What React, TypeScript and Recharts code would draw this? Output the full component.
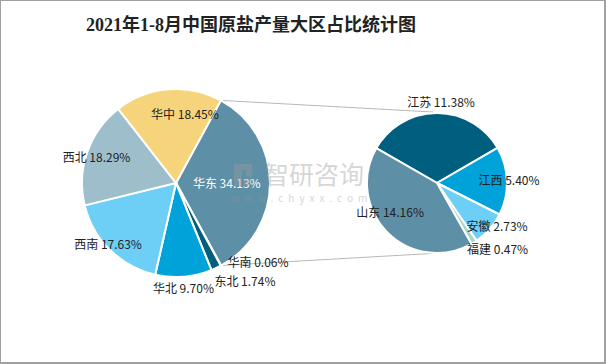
import React from 'react';
import { PieChart, Pie, Cell } from 'recharts';

const leftNames = ['华东', '华南', '东北', '华北', '西南', '西北', '华中'];
const leftValues = [34.13, 0.06, 1.74, 9.70, 17.63, 18.29, 18.45];
const rightNames = ['江苏', '江西', '安徽', '福建', '山东'];
const rightValues = [11.38, 5.40, 2.73, 0.47, 14.16];
const title = '2021年1-8月中国原盐产量大区占比统计图';

const leftColors = ['#5d8fa6', '#a8d6cf', '#005e7e', '#00a3d9', '#6dcff6', '#9fbecb', '#f6d47c'];
const rightColors = ['#005e7e', '#00a3d9', '#6dcff6', '#a8d6cf', '#5d8fa6'];
const leftLabelColors = ['#ffffff', '#222', '#222', '#222', '#222', '#222', '#222'];

// label layout: [radius factor, angle offset clockwise in degrees]
const leftLabelLayout: [number, number][] = [
  [0.54, 0], [1.21, -17.6], [1.27, -10], [1.11, 0.6], [0.965, 4], [0.89, -1], [0.75, 12],
];
const rightLabelLayout: [number, number][] = [
  [1.17, 3], [1.03, -0.7], [1.05, -6], [1.27, -11], [0.78, 14],
];

const W = 606;
const H = 364;
const L = { cx: 176, cy: 183, r: 94, start: 61.5 };
const R = { cx: 437, cy: 183, r: 70, start: 150.2 };

const leftData = leftNames.map((n, i) => ({ name: n, value: leftValues[i] }));
const rightData = rightNames.map((n, i) => ({ name: n, value: rightValues[i] }));

const FONT = '"Noto Sans CJK SC", "Noto Sans", sans-serif';
const RAD = Math.PI / 180;

function makeLabel(layout: [number, number][], colors: string[] | null) {
  return (p: any) => {
    const { cx, cy, midAngle, outerRadius, index, name, value } = p;
    const [k, off] = layout[index];
    const a = (midAngle - off) * RAD;
    const d = outerRadius * k;
    const x = cx + d * Math.cos(a);
    const y = cy - d * Math.sin(a);
    return (
      <text
        x={x}
        y={y}
        textAnchor="middle"
        dominantBaseline="central"
        fontSize={12}
        fontFamily={FONT}
        fill={colors ? colors[index] : '#222'}
      >
        {`${name} ${value.toFixed(2)}%`}
      </text>
    );
  };
}

export default function App() {
  const leftTotal = leftValues.reduce((a, b) => a + b, 0);
  const eastShare = leftValues[0] / leftTotal;
  const a1 = L.start * RAD;
  const a2 = (L.start - eastShare * 360) * RAD;
  const p1 = { x: L.cx + L.r * Math.cos(a1), y: L.cy - L.r * Math.sin(a1) };
  const p2 = { x: L.cx + L.r * Math.cos(a2), y: L.cy - L.r * Math.sin(a2) };
  const q1 = { x: R.cx - 4, y: R.cy - R.r - 1 };
  const q2 = { x: R.cx + 3, y: R.cy + R.r };

  return (
    <div
      style={{
        position: 'absolute',
        left: 0,
        top: 0,
        width: W,
        height: H,
        background: '#fff',
        boxSizing: 'border-box',
        borderLeft: '1px solid #a0a0a0',
        borderTop: '1px solid #a0a0a0',
        borderRight: '2px solid #a0a0a0',
        borderBottom: '2px solid #a0a0a0',
      }}
    >
      <svg width={W} height={H} style={{ position: 'absolute', left: -1, top: -1 }}>
        <line x1={p1.x} y1={p1.y} x2={q1.x} y2={q1.y} stroke="#b8b8b8" strokeWidth={1} />
        <line x1={p2.x} y1={p2.y} x2={q2.x} y2={q2.y} stroke="#b8b8b8" strokeWidth={1} />
        <text
          x={251}
          y={25}
          textAnchor="middle"
          dominantBaseline="central"
          fontSize={18}
          fontWeight="bold"
          fontFamily='"Liberation Serif", "Noto Sans CJK SC", serif'
          fill="#222"
        >
          {title}
        </text>
      </svg>
      <div style={{ position: 'absolute', left: -1, top: -1 }}>
        <PieChart width={W} height={H} margin={{ top: 0, right: 0, bottom: 0, left: 0 }}>
          <Pie
            data={leftData}
            dataKey="value"
            nameKey="name"
            cx={L.cx}
            cy={L.cy}
            outerRadius={L.r}
            startAngle={L.start}
            endAngle={L.start - 360}
            stroke="#ffffff"
            strokeWidth={2}
            isAnimationActive={false}
            labelLine={false}
            label={makeLabel(leftLabelLayout, leftLabelColors)}
          >
            {leftData.map((d, i) => (
              <Cell key={d.name} fill={leftColors[i]} />
            ))}
          </Pie>
          <Pie
            data={rightData}
            dataKey="value"
            nameKey="name"
            cx={R.cx}
            cy={R.cy}
            outerRadius={R.r}
            startAngle={R.start}
            endAngle={R.start - 360}
            stroke="#ffffff"
            strokeWidth={2}
            isAnimationActive={false}
            labelLine={false}
            label={makeLabel(rightLabelLayout, null)}
          >
            {rightData.map((d, i) => (
              <Cell key={d.name} fill={rightColors[i]} />
            ))}
          </Pie>
        </PieChart>
      </div>
      <svg
        width={W}
        height={H}
        style={{ position: 'absolute', left: -1, top: -1, pointerEvents: 'none' }}
      >
        <g opacity={0.4} fill="#9a9a9a">
          <rect x={234} y={164} width={8} height={22} />
          <rect x={242} y={164} width={10} height={6} />
          <rect x={246} y={170} width={6} height={7} />
          <rect x={244} y={179} width={8} height={7} />
          <text x={264} y={173} fontSize={25} fontFamily={FONT} dominantBaseline="central">
            智研咨询
          </text>
          <text
            x={232}
            y={197}
            fontSize={10}
            fontFamily={FONT}
            letterSpacing={5}
            dominantBaseline="central"
          >
            www.chyxx.com
          </text>
        </g>
      </svg>
    </div>
  );
}
